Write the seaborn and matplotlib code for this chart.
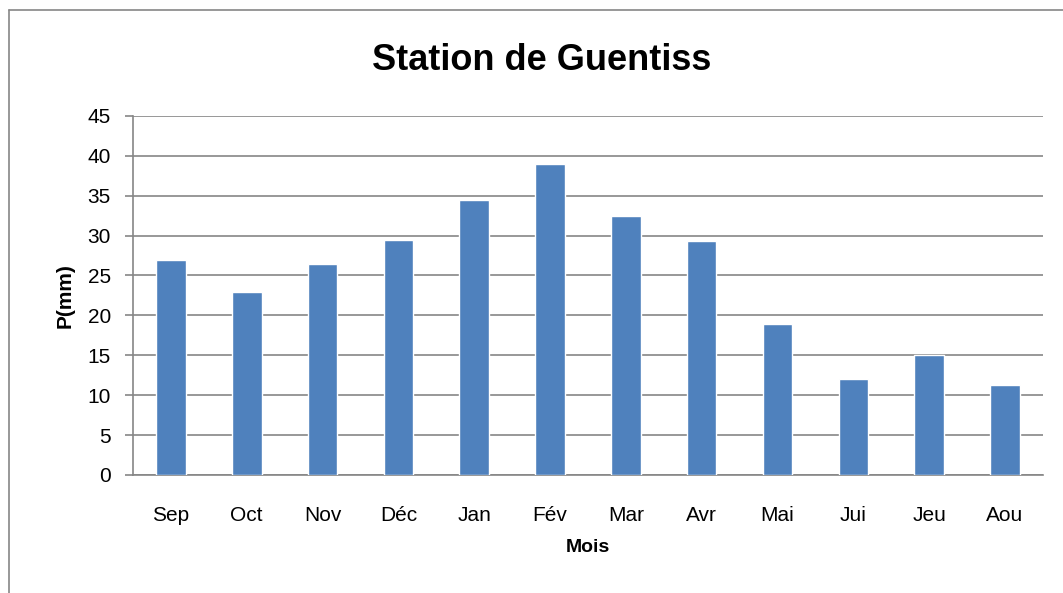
import matplotlib
matplotlib.use("Agg")
import matplotlib.pyplot as plt
import pandas as pd
import seaborn as sns

# Précipitations moyennes mensuelles - station de Guentiss
mois = ['Sep', 'Oct', 'Nov', 'Déc', 'Jan', 'Fév', 'Mar', 'Avr', 'Mai', 'Jui', 'Jeu', 'Aou']
pluie_mm = [27.0, 22.9, 26.5, 29.5, 34.5, 39.0, 32.5, 29.3, 18.9, 12.0, 15.0, 11.25]
y_ticks = [0, 5, 10, 15, 20, 25, 30, 35, 40, 45]

df = pd.DataFrame({'Mois': mois, 'P': pluie_mm})

sns.set_style("white")
plt.rcParams['font.family'] = ['Liberation Sans', 'DejaVu Sans']
plt.rcParams['text.color'] = 'black'
plt.rcParams['axes.labelcolor'] = 'black'
plt.rcParams['xtick.color'] = 'black'
plt.rcParams['ytick.color'] = 'black'

gris = '#868686'
fig = plt.figure(figsize=(10.63, 5.93), dpi=100)
ax = fig.add_axes([0.1251, 0.199, 0.856, 0.6056])

sns.barplot(data=df, x='Mois', y='P', color='#4F81BD', saturation=1,
            width=0.39, ax=ax, zorder=3)

ax.set_ylim(0, 45)
ax.set_yticks(y_ticks)
ax.set_xlim(-0.5, len(mois) - 0.5)
ax.yaxis.grid(True, color=gris, linewidth=1.2, zorder=0)
ax.set_axisbelow(True)

for side in ['top', 'right']:
    ax.spines[side].set_visible(False)
for side in ['left', 'bottom']:
    ax.spines[side].set_color(gris)
    ax.spines[side].set_linewidth(1.2)

ax.tick_params(axis='y', left=True, length=6, width=1.2, color=gris,
               labelcolor='black', labelsize=15, pad=10)
ax.tick_params(axis='x', bottom=False, labelcolor='black', labelsize=15, pad=19)

ax.set_xlabel('Mois', fontsize=14, fontweight='bold', labelpad=10)
ax.set_ylabel('P(mm)', fontsize=15, fontweight='bold', labelpad=9)

fig.text(542 / 1063, 1 - 60 / 593, 'Station de Guentiss', fontsize=26,
         fontweight='bold', ha='center', va='center', color='black')

# cadre du graphique (bord gauche et haut)
fig.add_artist(plt.Line2D([8.5 / 1063, 8.5 / 1063], [0, 1 - 10 / 593],
                          color=gris, linewidth=1.2, transform=fig.transFigure))
fig.add_artist(plt.Line2D([8.5 / 1063, 1], [1 - 10 / 593, 1 - 10 / 593],
                          color=gris, linewidth=1.2, transform=fig.transFigure))

fig.savefig('out.png', dpi=100)
